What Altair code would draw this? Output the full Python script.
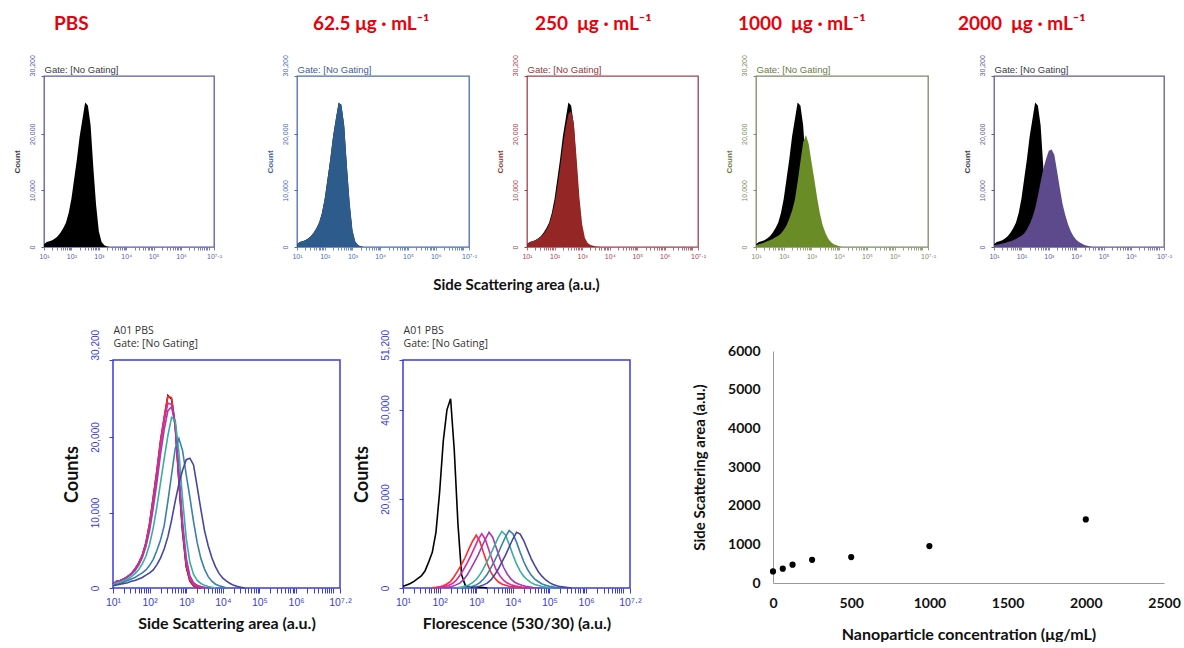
import altair as alt
import pandas as pd
import numpy as np

# ---------------- data ----------------
STEP = 0.1  # histogram bin width in decades (log10 units)
SSC_START = 1.0

# Side-scatter histograms (counts in thousands), bins from 10^1.0 in 0.1-decade steps
ssc_pbs = [0.5, 0.9, 1.0, 1.2, 1.5, 1.9, 2.5, 3.3, 4.3, 6.0, 8.5, 12.0, 15.5, 19.5, 22.5, 25.5,
           25.0, 21.5, 14.0, 7.4, 2.8, 0.9, 0.3, 0.1, 0.0]
ssc_62 = [0.5, 0.9, 1.0, 1.2, 1.5, 1.9, 2.5, 3.3, 4.4, 6.0, 8.6, 12.0, 15.6, 19.6, 22.7, 25.4,
          25.2, 21.6, 14.4, 7.8, 3.0, 1.0, 0.35, 0.1, 0.0]
ssc_125 = [0.5, 0.9, 1.0, 1.2, 1.5, 1.9, 2.4, 3.2, 4.2, 5.8, 8.2, 11.5, 15.0, 19.0, 22.2, 24.5,
           24.3, 21.4, 14.6, 8.0, 3.3, 1.2, 0.5, 0.2, 0.1, 0.0]
ssc_250 = [0.5, 0.8, 1.0, 1.2, 1.5, 1.8, 2.3, 3.0, 4.0, 5.5, 7.6, 10.6, 14.0, 17.8, 21.0, 23.5,
           24.0, 21.8, 15.6, 8.8, 4.0, 1.6, 0.7, 0.35, 0.2, 0.1, 0.05, 0.0]
ssc_500 = [0.4, 0.7, 0.8, 1.0, 1.2, 1.5, 1.9, 2.4, 3.2, 4.2, 5.8, 8.0, 10.8, 14.0, 17.2, 20.2,
           22.6, 22.2, 18.0, 11.8, 6.6, 3.4, 1.8, 1.0, 0.6, 0.35, 0.2, 0.1, 0.0]
ssc_1000 = [0.3, 0.5, 0.6, 0.8, 1.0, 1.2, 1.4, 1.7, 2.0, 2.4, 3.0, 3.8, 5.0, 6.4, 8.3, 11.5,
            15.0, 18.5, 19.8, 18.2, 15.0, 12.0, 8.8, 6.0, 3.9, 2.5, 1.5, 0.9, 0.5, 0.3, 0.15, 0.0]
ssc_2000 = [0.3, 0.4, 0.5, 0.6, 0.7, 0.9, 1.0, 1.2, 1.4, 1.7, 2.0, 2.4, 3.1, 4.0, 5.2, 6.8,
            9.0, 11.5, 13.8, 15.6, 17.0, 17.2, 16.3, 13.4, 10.4, 7.6, 5.6, 4.0, 2.8, 1.9, 1.3,
            0.9, 0.6, 0.35, 0.2, 0.08, 0.0]

# Fluorescence (530/30) histograms (counts in thousands); each starts at its own first bin
fl_start = [1.0, 1.8, 1.95, 2.15, 2.5, 2.7, 2.9]
fl_pbs = [0.4, 0.7, 1.0, 1.5, 2.1, 2.7, 3.8, 5.8, 8.0, 12.5, 21.5, 33.0, 40.0, 42.5, 31.0, 14.5,
          3.0, 0.6, 0.3, 0.2, 0.1, 0.1, 0.1, 0.0]
fl_62 = [0.1, 0.15, 0.3, 0.5, 0.9, 1.5, 2.6, 3.9, 5.3, 6.9, 8.8, 10.5, 11.9, 10.4, 7.9, 5.5, 3.5,
         2.3, 1.4, 0.9, 0.6, 0.4, 0.3, 0.2, 0.1, 0.05, 0.0]
fl_125 = [0.1, 0.2, 0.35, 0.6, 1.0, 1.7, 2.8, 4.1, 5.6, 7.2, 9.0, 10.8, 12.2, 10.9, 8.4, 6.0, 4.0,
          2.7, 1.7, 1.1, 0.75, 0.5, 0.35, 0.22, 0.12, 0.05, 0.0]
fl_250 = [0.1, 0.2, 0.4, 0.7, 1.1, 1.8, 2.9, 4.3, 5.8, 7.4, 9.2, 11.0, 12.5, 11.4, 9.0, 6.6, 4.6,
          3.1, 2.0, 1.3, 0.9, 0.6, 0.4, 0.25, 0.12, 0.05, 0.0]
fl_500 = [0.1, 0.2, 0.4, 0.7, 1.2, 1.9, 3.0, 4.4, 6.0, 7.7, 9.5, 11.3, 12.7, 11.9, 9.8, 7.5, 5.4,
          3.8, 2.6, 1.8, 1.2, 0.8, 0.55, 0.35, 0.2, 0.1, 0.0]
fl_1000 = [0.1, 0.2, 0.4, 0.7, 1.2, 2.0, 3.1, 4.5, 6.1, 7.8, 9.7, 11.5, 12.9, 12.2, 10.3, 8.0,
           5.9, 4.2, 2.9, 2.0, 1.4, 0.9, 0.6, 0.4, 0.25, 0.12, 0.0]
fl_2000 = [0.1, 0.2, 0.4, 0.7, 1.1, 1.8, 2.9, 4.2, 5.8, 7.4, 9.2, 11.0, 12.5, 12.1, 10.6, 8.6,
           6.6, 5.0, 3.6, 2.6, 1.8, 1.2, 0.8, 0.5, 0.3, 0.2, 0.1, 0.0]

samples = ["PBS", "62.5", "125", "250", "500", "1000", "2000"]
curve_colors = ["#000000", "#ff2a2a", "#e0259a", "#a03cb4", "#3aaea0", "#3a80a8", "#4646a0"]

# scatter: nanoparticle concentration vs mean side scatter
scatter_conc = [0, 62.5, 125, 250, 500, 1000, 2000]
scatter_ssc = [300, 370, 475, 600, 670, 955, 1645]

NB = "\u00a0"
top_titles = ["PBS", "62.5 μg · mL⁻¹", "250" + NB + NB + "μg · mL⁻¹",
              "1000" + NB + NB + "μg · mL⁻¹", "2000" + NB + NB + "μg · mL⁻¹"]
top_keys = [None, "62.5", "250", "1000", "2000"]
top_fill = [None, "#2d5b8c", "#952626", "#6a8c26", "#5c4a8c"]
top_frame = ["#5b5bab", "#4a6db0", "#a4414f", "#7d8c64", "#635a9a"]
top_text = ["#3a3a3a", "#3e5f8e", "#8b3a3a", "#6b7a44", "#3a3a4a"]
top_title_dx = [10, 16, 8, -18, -36]

ssc_vals = dict(zip(samples, [ssc_pbs, ssc_62, ssc_125, ssc_250, ssc_500, ssc_1000, ssc_2000]))
fl_vals = dict(zip(samples, [fl_pbs, fl_62, fl_125, fl_250, fl_500, fl_1000, fl_2000]))
fl_starts = dict(zip(samples, fl_start))


def curve_df(values, start, name):
    return pd.DataFrame({
        "logx": [round(start + i * STEP, 3) for i in range(len(values))],
        "count": [v * 1000 for v in values],
        "sample": name,
    })


ssc_df = {s: curve_df(ssc_vals[s], SSC_START, s) for s in samples}
ssc_all = pd.concat([ssc_df[s] for s in samples], ignore_index=True)
fl_all = pd.concat([curve_df(fl_vals[s], fl_starts[s], s) for s in samples], ignore_index=True)
scatter_df = pd.DataFrame({"conc": scatter_conc, "ssc": scatter_ssc})

# log-axis tick positions (decades + minor ticks)
ticks = sorted(set(round(float(k + np.log10(m)), 4) for k in range(1, 7) for m in range(1, 10)))
ticks += [7.0, 7.2]
LBL = ("datum.value == 1 ? '10¹' : datum.value == 2 ? '10²' : datum.value == 3 ? '10³' : "
       "datum.value == 4 ? '10⁴' : datum.value == 5 ? '10⁵' : datum.value == 6 ? '10⁶' : "
       "datum.value == 7.2 ? '10⁷·²' : ''")
YLBL = "format(datum.value, ',d')"

ARIAL = "Liberation Sans"
CAL = "Lato"
XS = alt.Scale(domain=[1, 7.2], nice=False, zero=False)


def spacer(w, h=1):
    return alt.Chart(pd.DataFrame({"v": [0]})).mark_point(opacity=0, size=1).encode(
        x=alt.value(0), y=alt.value(0)
    ).properties(width=w, height=h, view=alt.ViewBackground(stroke="transparent", strokeWidth=0))


def top_panel(i, xtitle=None):
    frame, txt = top_frame[i], top_text[i]
    xaxis_kw = dict(values=ticks, labelExpr=LBL, labelOverlap=False, labelFlush=False, grid=False,
                    domain=False, tickColor=frame, tickSize=3, tickWidth=0.8, labelColor=frame,
                    labelFontSize=7, labelFont=ARIAL, labelPadding=2)
    if xtitle:
        xaxis_kw.update(title=xtitle, titleFont=CAL, titleFontSize=15, titleFontWeight="bold",
                        titleColor="#111", titleX=-11, titleY=37, titleAlign="center",
                        titleBaseline="middle")
    else:
        xaxis_kw.update(title=None)
    yaxis = alt.Axis(values=[0, 10000, 20000, 30200], labelExpr=YLBL, labelAngle=270,
                     labelAlign={"condition": {"test": "datum.value === 30200", "value": "left"},
                                 "value": "center"},
                     labelBaseline="bottom", labelFontSize=7, labelFont=ARIAL, labelColor=frame,
                     tickColor=frame, tickSize=3, labelPadding=6, grid=False, domain=False,
                     labelOverlap=False, labelFlush=False,
                     title="Count", titleFont=ARIAL, titleFontSize=8, titleFontWeight="bold",
                     titleColor=txt, titlePadding=7)
    ys = alt.Scale(domain=[0, 30200], nice=False)
    black = alt.Chart(ssc_df["PBS"]).mark_area(color="black", interpolate="linear").encode(
        x=alt.X("logx:Q", scale=XS, axis=alt.Axis(**xaxis_kw)),
        y=alt.Y("count:Q", scale=ys, axis=yaxis),
    )
    layers = [black]
    if top_keys[i]:
        layers.append(alt.Chart(ssc_df[top_keys[i]]).mark_area(color=top_fill[i], interpolate="linear").encode(
            x=alt.X("logx:Q", scale=XS, axis=None),
            y=alt.Y("count:Q", scale=ys, axis=None),
        ))
    gate = alt.Chart(ssc_df["PBS"]).mark_point(opacity=0).encode(
        x=alt.X("logx:Q", scale=XS, axis=alt.Axis(orient="top", title="Gate: [No Gating]", labels=False,
                                                   ticks=False, domain=False, grid=False,
                                                   titleAnchor="start", titleAlign="left",
                                                   titleFont=ARIAL, titleFontSize=9.5,
                                                   titleFontWeight="normal", titleColor=txt,
                                                   titlePadding=2)),
        y=alt.Y("count:Q", scale=ys, axis=None),
    )
    layers.append(gate)
    return alt.layer(*layers).resolve_axis(x="independent", y="independent").properties(
        width=[170, 172, 171, 172, 170][i], height=171,
        view=alt.ViewBackground(stroke=frame, strokeWidth=1.3),
        title=alt.TitleParams(text=top_titles[i], anchor="start", frame="group", dx=top_title_dx[i],
                              color="#e8000b", font=CAL, fontSize=19, fontWeight="bold", offset=21),
    )


BLUE = "#3b3bdc"


def bottom_panel(df, ymax, yvals, xtitle):
    xaxis = alt.Axis(values=ticks, labelExpr=LBL, labelOverlap=False, labelFlush=False, grid=False,
                     domain=False, tickColor=BLUE, tickSize=5, tickWidth=1, labelColor=BLUE,
                     labelFontSize=10.5, labelFont=ARIAL, labelPadding=4,
                     title=xtitle, titleFont=CAL, titleFontSize=16, titleFontWeight="bold",
                     titleColor="#111", titlePadding=8)
    yaxis = alt.Axis(values=yvals, labelExpr=YLBL, labelAngle=270,
                     labelAlign={"condition": {"test": "datum.value === %d" % ymax, "value": "left"},
                                 "value": "center"},
                     labelBaseline="bottom", labelFontSize=10, labelFont=ARIAL, labelColor=BLUE,
                     tickColor=BLUE, tickSize=4, labelPadding=9, grid=False, domain=False,
                     labelOverlap=False, labelFlush=False,
                     title="Counts", titleFont=CAL, titleFontSize=18, titleFontWeight="bold",
                     titleColor="#111", titlePadding=9)
    ys = alt.Scale(domain=[0, ymax], nice=False)
    lines = alt.Chart(df).mark_line(strokeWidth=1.6, interpolate="linear").encode(
        x=alt.X("logx:Q", scale=XS, axis=xaxis),
        y=alt.Y("count:Q", scale=ys, axis=yaxis),
        color=alt.Color("sample:N", scale=alt.Scale(domain=samples, range=curve_colors), legend=None),
    )
    gate = alt.Chart(df).mark_point(opacity=0).encode(
        x=alt.X("logx:Q", scale=XS, axis=alt.Axis(orient="top", title=["A01 PBS", "Gate: [No Gating]"],
                                                   labels=False, ticks=False, domain=False, grid=False,
                                                   titleAnchor="start", titleAlign="left",
                                                   titleFont="Open Sans", titleFontSize=10.5,
                                                   titleFontWeight="normal", titleColor="#333",
                                                   titleLineHeight=13, titlePadding=12)),
        y=alt.Y("count:Q", scale=ys, axis=None),
    )
    return alt.layer(lines, gate).resolve_axis(x="independent", y="independent").properties(
        width=227, height=228, view=alt.ViewBackground(stroke=BLUE, strokeWidth=1.5))


scatter = alt.Chart(scatter_df).mark_circle(size=38, color="black", opacity=1).encode(
    x=alt.X("conc:Q", scale=alt.Scale(domain=[0, 2500], nice=False),
            axis=alt.Axis(values=[0, 500, 1000, 1500, 2000, 2500], format="d", grid=False,
                          ticks=False, domainColor="#9a9a9a", labelFont=CAL,
                          labelFontWeight="bold", labelFontSize=14, labelColor="#111",
                          labelPadding=13, labelFlush=False,
                          title="Nanoparticle concentration (μg/mL)", titleFont=CAL,
                          titleFontSize=16, titleFontWeight="bold", titleColor="#111",
                          titlePadding=16)),
    y=alt.Y("ssc:Q", scale=alt.Scale(domain=[0, 6000], nice=False, range=[223, -9]),
            axis=alt.Axis(values=[0, 1000, 2000, 3000, 4000, 5000, 6000], format="d", grid=False,
                          ticks=False, domainColor="#9a9a9a", labelFont=CAL,
                          labelFontWeight="bold", labelFontSize=14, labelColor="#111",
                          labelPadding=13, labelFlush=False,
                          title="Side Scattering area (a.u.)", titleFont=CAL, titleFontSize=15,
                          titleFontWeight="bold", titleColor="#111", titlePadding=20)),
).properties(width=391, height=223, view=alt.ViewBackground(stroke="transparent", strokeWidth=0))

row1 = alt.hconcat(
    spacer(43), top_panel(0), spacer(83), top_panel(1), spacer(58),
    top_panel(2, "Side Scattering area (a.u.)"), spacer(58), top_panel(3), spacer(66), top_panel(4),
    spacing=0, bounds="flush",
)
row2 = alt.hconcat(
    spacer(112), bottom_panel(ssc_all, 30200, [0, 10000, 20000, 30200], "Side Scattering area (a.u.)"),
    spacer(63), bottom_panel(fl_all, 51200, [0, 20000, 40000, 51200], "Florescence (530/30) (a.u.)"),
    spacer(143), scatter,
    spacing=0, bounds="flush",
)

chart = alt.vconcat(row1, row2, spacing=31).properties(
    padding={"left": 0, "top": 13, "right": 0, "bottom": 0}
).configure(background="white")

chart.save("out.html", embed_options={"renderer": "svg", "actions": False})
